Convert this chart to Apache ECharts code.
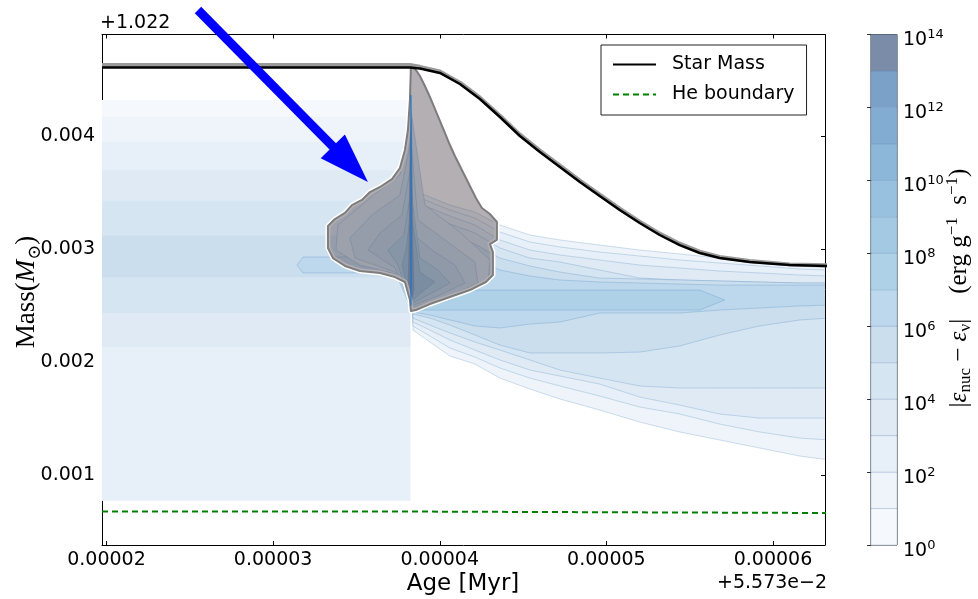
<!DOCTYPE html>
<html>
<head>
<meta charset="utf-8">
<script src="https://cdn.jsdelivr.net/npm/echarts@6.0.0/dist/echarts.min.js"></script>
<style>
html,body{margin:0;padding:0;background:#ffffff;}
#chart{width:978px;height:599px;}
</style>
</head>
<body>
<div id="chart"></div>
<script>
// ================= DATA =================
// axis ranges (offsets: age +5.573e-2 Myr, mass +1.022 Msun)
const ageRange = [1.973e-5, 6.312e-5];
const massRange = [0.381e-3, 4.898e-3];
const cbRange = [0, 14];               // log10 |eps_nuc - eps_nu|
const cbLevels = [0,1,2,3,4,5,6,7,8,9,10,11,12,13];

// Star mass curve
const starAge  = [1.973e-5, 3.821e-5, 3.881e-5, 4.001e-5, 4.121e-5, 4.241e-5, 4.361e-5, 4.481e-5, 4.601e-5, 4.721e-5, 4.841e-5, 4.960e-5, 5.080e-5, 5.200e-5, 5.320e-5, 5.440e-5, 5.560e-5, 5.680e-5, 5.860e-5, 6.100e-5, 6.340e-5];
const starMass = [4.606e-3, 4.606e-3, 4.597e-3, 4.558e-3, 4.460e-3, 4.327e-3, 4.168e-3, 4.000e-3, 3.858e-3, 3.726e-3, 3.593e-3, 3.469e-3, 3.345e-3, 3.230e-3, 3.124e-3, 3.035e-3, 2.965e-3, 2.920e-3, 2.885e-3, 2.858e-3, 2.850e-3];
// grey surface convective zone trace
const surfAge  = [1.973e-5, 3.821e-5, 3.881e-5, 4.001e-5, 4.121e-5, 4.241e-5, 4.361e-5, 4.481e-5, 4.601e-5, 4.721e-5, 4.841e-5, 4.960e-5, 5.080e-5, 5.200e-5, 5.320e-5, 5.440e-5, 5.560e-5, 5.680e-5, 5.860e-5, 6.100e-5, 6.340e-5];
const surfMass = [4.628e-3, 4.628e-3, 4.612e-3, 4.570e-3, 4.472e-3, 4.339e-3, 4.180e-3, 4.012e-3, 3.870e-3, 3.738e-3, 3.605e-3, 3.481e-3, 3.357e-3, 3.242e-3, 3.136e-3, 3.047e-3, 2.977e-3, 2.930e-3, 2.893e-3, 2.864e-3, 2.855e-3];

// He boundary
const heAge  = [1.973e-5, 3.825e-5, 3.825e-5, 6.340e-5];
const heMass = [0.677e-3, 0.677e-3, 0.664e-3, 0.664e-3];

// burning contours, left part (before the flash): rectangles
const leftAgeStart = 1.95e-5;
const leftAgeEnd   = 3.823e-5;
const leftLevels   = [0, 1, 2, 3, 4, 5];
const leftLowMass  = [0.774e-3, 0.774e-3, 0.774e-3, 2.133e-3, 2.434e-3, 2.749e-3];
const leftHighMass = [4.319e-3, 4.170e-3, 3.950e-3, 3.696e-3, 3.427e-3, 3.119e-3];
const leftCoreLevel = 6;
const leftCore = [[3.143e-5,2.858e-3],[3.179e-5,2.929e-3],[3.823e-5,2.929e-3],[3.823e-5,2.788e-3],[3.179e-5,2.788e-3]];

// burning contours, right part (after the flash)
const rightAges = [3.839e-5, 3.941e-5, 4.061e-5, 4.211e-5, 4.361e-5, 4.541e-5, 4.721e-5, 4.960e-5, 5.200e-5, 5.440e-5, 5.680e-5, 5.920e-5, 6.160e-5, 6.340e-5];
const rightLevels = [1, 2, 3, 4, 5, 6];
const rightLow = [
  [2.283e-3,2.177e-3,2.053e-3,1.982e-3,1.858e-3,1.761e-3,1.673e-3,1.575e-3,1.469e-3,1.381e-3,1.310e-3,1.239e-3,1.168e-3,1.133e-3],
  [2.319e-3,2.230e-3,2.124e-3,2.044e-3,1.947e-3,1.858e-3,1.788e-3,1.699e-3,1.602e-3,1.540e-3,1.451e-3,1.381e-3,1.327e-3,1.310e-3],
  [2.354e-3,2.283e-3,2.195e-3,2.106e-3,2.018e-3,1.929e-3,1.876e-3,1.805e-3,1.690e-3,1.619e-3,1.540e-3,1.504e-3,1.504e-3,1.504e-3],
  [2.389e-3,2.327e-3,2.257e-3,2.177e-3,2.106e-3,2.018e-3,1.929e-3,1.858e-3,1.788e-3,1.770e-3,1.770e-3,1.770e-3,1.770e-3,1.770e-3],
  [2.425e-3,2.389e-3,2.327e-3,2.239e-3,2.150e-3,2.080e-3,2.080e-3,2.080e-3,2.088e-3,2.142e-3,2.239e-3,2.319e-3,2.372e-3,2.389e-3],
  [2.442e-3,2.416e-3,2.372e-3,2.319e-3,2.301e-3,2.336e-3,2.354e-3,2.434e-3,2.434e-3,2.434e-3,2.460e-3,2.478e-3,2.496e-3,2.504e-3]
];
const rightHigh = [
  [3.522e-3,3.460e-3,3.389e-3,3.327e-3,3.212e-3,3.124e-3,3.080e-3,3.035e-3,2.991e-3,2.956e-3,2.920e-3,2.885e-3,2.850e-3,2.832e-3],
  [3.478e-3,3.416e-3,3.345e-3,3.274e-3,3.150e-3,3.062e-3,3.018e-3,2.973e-3,2.938e-3,2.903e-3,2.876e-3,2.850e-3,2.823e-3,2.814e-3],
  [3.434e-3,3.363e-3,3.292e-3,3.212e-3,3.080e-3,2.991e-3,2.947e-3,2.903e-3,2.858e-3,2.832e-3,2.805e-3,2.788e-3,2.770e-3,2.761e-3],
  [3.381e-3,3.301e-3,3.221e-3,3.142e-3,3.009e-3,2.920e-3,2.885e-3,2.814e-3,2.743e-3,2.726e-3,2.717e-3,2.708e-3,2.699e-3,2.699e-3],
  [3.310e-3,3.221e-3,3.133e-3,3.044e-3,2.920e-3,2.850e-3,2.796e-3,2.743e-3,2.735e-3,2.726e-3,2.717e-3,2.708e-3,2.699e-3,2.699e-3],
  [3.212e-3,3.115e-3,3.009e-3,2.920e-3,2.814e-3,2.761e-3,2.726e-3,2.708e-3,2.699e-3,2.690e-3,2.681e-3,2.681e-3,2.681e-3,2.681e-3]
];
const rightCoreLevel = 7;
const rightCore = [[3.839e-5,2.637e-3],[5.560e-5,2.637e-3],[5.710e-5,2.549e-3],[5.560e-5,2.460e-3],[3.839e-5,2.460e-3]];

// flash region contours
const flashLevels = [4, 5, 6, 7, 9, 12, 13];
const flashPolys = [
  [[3.827e-5,4.230e-3],[3.761e-5,3.655e-3],[3.581e-5,3.451e-3],[3.389e-5,3.212e-3],[3.377e-5,2.991e-3],[3.521e-5,2.858e-3],[3.761e-5,2.770e-3],[3.827e-5,2.460e-3],[4.061e-5,2.549e-3],[4.289e-5,2.699e-3],[4.301e-5,2.903e-3],[4.121e-5,3.150e-3],[3.911e-5,3.389e-3]],
  [[3.827e-5,3.965e-3],[3.761e-5,3.478e-3],[3.593e-5,3.301e-3],[3.461e-5,3.097e-3],[3.491e-5,2.920e-3],[3.731e-5,2.796e-3],[3.827e-5,2.478e-3],[4.031e-5,2.566e-3],[4.229e-5,2.699e-3],[4.211e-5,2.885e-3],[4.031e-5,3.080e-3],[3.869e-5,3.257e-3]],
  [[3.827e-5,3.743e-3],[3.773e-5,3.301e-3],[3.641e-5,3.142e-3],[3.569e-5,2.991e-3],[3.731e-5,2.832e-3],[3.827e-5,2.496e-3],[3.989e-5,2.584e-3],[4.151e-5,2.699e-3],[4.091e-5,2.858e-3],[3.953e-5,2.991e-3],[3.845e-5,3.124e-3]],
  [[3.827e-5,3.522e-3],[3.785e-5,3.124e-3],[3.689e-5,2.991e-3],[3.749e-5,2.858e-3],[3.827e-5,2.513e-3],[3.941e-5,2.602e-3],[4.061e-5,2.699e-3],[3.989e-5,2.814e-3],[3.881e-5,2.920e-3]],
  [[3.827e-5,3.345e-3],[3.797e-5,2.991e-3],[3.773e-5,2.858e-3],[3.827e-5,2.531e-3],[3.893e-5,2.619e-3],[3.971e-5,2.708e-3],[3.881e-5,2.796e-3]],
  [[3.824e-5,4.363e-3],[3.815e-5,2.991e-3],[3.809e-5,2.637e-3],[3.827e-5,2.496e-3],[3.845e-5,2.637e-3],[3.839e-5,2.991e-3],[3.830e-5,4.363e-3]],
  [[3.826e-5,4.142e-3],[3.823e-5,2.726e-3],[3.827e-5,2.522e-3],[3.831e-5,2.726e-3],[3.829e-5,4.142e-3]]
];

// convective (grey) region
const convZone = [[3.827e-5,4.619e-3],[3.857e-5,4.584e-3],[3.881e-5,4.531e-3],[3.911e-5,4.442e-3],[3.941e-5,4.345e-3],[3.971e-5,4.239e-3],[4.001e-5,4.133e-3],[4.031e-5,4.027e-3],[4.061e-5,3.920e-3],[4.091e-5,3.823e-3],[4.121e-5,3.735e-3],[4.151e-5,3.646e-3],[4.181e-5,3.558e-3],[4.217e-5,3.451e-3],[4.253e-5,3.363e-3],[4.301e-5,3.310e-3],[4.343e-5,3.239e-3],[4.343e-5,3.080e-3],[4.301e-5,3.044e-3],[4.319e-5,2.973e-3],[4.319e-5,2.770e-3],[4.277e-5,2.708e-3],[4.181e-5,2.637e-3],[4.061e-5,2.575e-3],[3.941e-5,2.513e-3],[3.857e-5,2.460e-3],[3.827e-5,2.451e-3],[3.821e-5,2.549e-3],[3.791e-5,2.708e-3],[3.731e-5,2.752e-3],[3.641e-5,2.788e-3],[3.521e-5,2.805e-3],[3.431e-5,2.850e-3],[3.359e-5,2.920e-3],[3.329e-5,3.009e-3],[3.329e-5,3.204e-3],[3.371e-5,3.265e-3],[3.431e-5,3.319e-3],[3.473e-5,3.389e-3],[3.533e-5,3.434e-3],[3.581e-5,3.504e-3],[3.641e-5,3.549e-3],[3.713e-5,3.619e-3],[3.761e-5,3.717e-3],[3.791e-5,3.876e-3],[3.809e-5,4.053e-3],[3.821e-5,4.319e-3]];

// flash spike
const spikeAge  = [3.827e-5, 3.827e-5];
const spikeMass = [4.363e-3, 2.500e-3];

// annotation arrow (start, tip)
const arrowStart = [2.549e-5, 5.115e-3];
const arrowTip   = [3.569e-5, 3.593e-3];

// ================= STYLE =================
const levelColors = ['#f5f8fc','#eef4fa','#e7f0f8','#dfeaf5','#d6e5f2','#cadeee','#bdd8ec','#afd1e8','#a3c9e3','#98c1df','#8db7d9','#83acd2','#7ba1c9','#7a8ca8'];
const FONT = 'DejaVu Sans';

const polys = [], polyLevels = [], polyStroke = [];
leftLevels.forEach((lv, i) => {
  polys.push([[leftAgeStart, leftLowMass[i]], [leftAgeEnd, leftLowMass[i]], [leftAgeEnd, leftHighMass[i]], [leftAgeStart, leftHighMass[i]]]);
  polyLevels.push(lv); polyStroke.push(false);
});
polys.push(leftCore); polyLevels.push(leftCoreLevel); polyStroke.push(true);
rightLevels.forEach((lv, k) => {
  const pts = [];
  rightAges.forEach((a, j) => pts.push([a, rightHigh[k][j]]));
  for (let j = rightAges.length - 1; j >= 0; j--) pts.push([rightAges[j], rightLow[k][j]]);
  polys.push(pts); polyLevels.push(lv); polyStroke.push(true);
});
polys.push(rightCore); polyLevels.push(rightCoreLevel); polyStroke.push(true);
flashPolys.forEach((p, i) => { polys.push(p); polyLevels.push(flashLevels[i]); polyStroke.push(true); });

const zip = (a, b) => a.map((v, i) => [v, b[i]]);

const chart = echarts.init(document.getElementById('chart'), null, {renderer: 'canvas'});

const mainX = (pos, showLabel) => ({
  type: 'value', gridIndex: 0, position: pos, min: ageRange[0], max: ageRange[1],
  minInterval: 1e-5, maxInterval: 1e-5,
  axisLine: {show: true, onZero: false, lineStyle: {color: '#000', width: 1}},
  axisTick: {show: true, inside: true, length: 4, lineStyle: {color: '#000'}},
  splitLine: {show: false},
  axisLabel: {show: showLabel, showMinLabel: false, showMaxLabel: false, margin: 6,
    color: '#000', fontSize: 19, fontFamily: FONT, formatter: v => v.toFixed(5)}
});
const mainY = (pos, showLabel) => ({
  type: 'value', gridIndex: 0, position: pos, min: massRange[0], max: massRange[1],
  minInterval: 1e-3, maxInterval: 1e-3,
  axisLine: {show: true, onZero: false, lineStyle: {color: '#000', width: 1}},
  axisTick: {show: true, inside: true, length: 4, lineStyle: {color: '#000'}},
  splitLine: {show: false},
  axisLabel: {show: showLabel, showMinLabel: false, showMaxLabel: false, margin: 7,
    color: '#000', fontSize: 19, fontFamily: FONT, formatter: v => v.toFixed(3)}
});

const option = {
  animation: false,
  backgroundColor: '#ffffff',
  grid: [
    {left: 102, right: 153, top: 34.5, bottom: 54, containLabel: false},
    {left: 871, width: 26, top: 34.5, bottom: 54, show: true, borderColor: '#333', borderWidth: 1, backgroundColor: 'transparent'}
  ],
  xAxis: [mainX('bottom', true), mainX('top', false),
    {type: 'value', gridIndex: 1, min: 0, max: 1, show: false}],
  yAxis: [mainY('left', true), mainY('right', false),
    {type: 'value', gridIndex: 1, position: 'right', min: cbRange[0], max: cbRange[1], interval: 2,
     axisLine: {show: false}, splitLine: {show: false},
     axisTick: {show: true, inside: true, length: 4, lineStyle: {color: '#333'}},
     axisLabel: {show: true, margin: 6, color: '#000', fontFamily: FONT,
       formatter: v => '{b|10}{s|' + v + '}',
       rich: {b: {fontSize: 19, fontFamily: FONT, color: '#000', lineHeight: 20, padding: [12, 0, 0, 0]},
              s: {fontSize: 13, fontFamily: FONT, color: '#000', lineHeight: 14, verticalAlign: 'top', padding: [4, 0, 0, 0]}}}}],
  legend: {
    data: ['Star Mass', 'He boundary'],
    orient: 'vertical', left: 601, top: 45,
    padding: [10, 12, 11, 11], itemGap: 11, itemWidth: 43, itemHeight: 20,
    backgroundColor: '#fff', borderColor: '#222', borderWidth: 1, borderRadius: 0,
    itemStyle: {opacity: 0, borderWidth: 0},
    textStyle: {fontSize: 19, fontFamily: FONT, color: '#000', padding: [0, 0, 0, 11]},
    selectedMode: false
  },
  series: [
    {
      type: 'custom', name: 'contours', xAxisIndex: 0, yAxisIndex: 0, clip: true, silent: true, z: 1,
      data: polys.map((p, i) => [p[0][0], p[0][1], i]),
      encode: {x: 0, y: 1},
      renderItem: (params, api) => {
        const i = api.value(2);
        const pts = polys[i].map(pt => api.coord(pt));
        return {type: 'polygon', shape: {points: pts},
          style: {fill: levelColors[polyLevels[i]], stroke: polyStroke[i] ? 'rgba(60,120,180,0.3)' : null, lineWidth: 0.8}};
      }
    },
    {
      type: 'custom', name: 'convective', xAxisIndex: 0, yAxisIndex: 0, clip: true, silent: true, z: 3,
      data: [[convZone[0][0], convZone[0][1]]], encode: {x: 0, y: 1},
      renderItem: (params, api) => {
        const pts = convZone.map(pt => api.coord(pt));
        return {type: 'group', children: [
          {type: 'polygon', shape: {points: pts}, style: {fill: null, stroke: '#ffffff', lineWidth: 5, lineJoin: 'round'}},
          {type: 'polygon', shape: {points: pts}, style: {fill: 'rgba(86,77,86,0.45)', stroke: '#7d7d7d', lineWidth: 2, lineJoin: 'round'}}
        ]};
      }
    },
    {
      type: 'line', name: 'spike', xAxisIndex: 0, yAxisIndex: 0, z: 4, silent: true,
      data: zip(spikeAge, spikeMass), symbol: 'none', lineStyle: {color: 'rgba(40,118,200,0.85)', width: 1.5}
    },
    {
      type: 'line', name: 'surface', xAxisIndex: 0, yAxisIndex: 0, z: 4, silent: true,
      data: zip(surfAge, surfMass), symbol: 'none', lineStyle: {color: '#9a9a9a', width: 4}
    },
    {
      type: 'line', name: 'Star Mass', xAxisIndex: 0, yAxisIndex: 0, z: 5,
      data: zip(starAge, starMass), symbol: 'none', smooth: false,
      lineStyle: {color: '#000', width: 2.5}, itemStyle: {color: '#000'}
    },
    {
      type: 'line', name: 'He boundary', xAxisIndex: 0, yAxisIndex: 0, z: 5,
      data: zip(heAge, heMass), symbol: 'none',
      lineStyle: {color: '#008000', width: 2, type: [6, 4]}, itemStyle: {color: '#008000'}
    },
    {
      type: 'custom', name: 'colorbar', xAxisIndex: 2, yAxisIndex: 2, silent: true, z: 1,
      data: cbLevels.map(l => [0, l]), encode: {x: 0, y: 1},
      renderItem: (params, api) => {
        const l = api.value(1);
        const p0 = api.coord([0, l]), p1 = api.coord([1, l + 1]);
        return {type: 'rect', shape: {x: p0[0], y: p1[1], width: p1[0] - p0[0], height: p0[1] - p1[1]},
          style: {fill: levelColors[l], stroke: 'rgba(90,130,175,0.35)', lineWidth: 0.7}};
      }
    },
    {
      type: 'custom', name: 'arrow', xAxisIndex: 0, yAxisIndex: 0, clip: false, silent: true, z: 20,
      data: [[arrowStart[0], arrowStart[1], arrowTip[0], arrowTip[1]]], encode: {x: [0, 2], y: [1, 3]},
      renderItem: (params, api) => {
        const p0 = api.coord([api.value(0), api.value(1)]);
        const p1 = api.coord([api.value(2), api.value(3)]);
        const dx = p1[0] - p0[0], dy = p1[1] - p0[1];
        const len = Math.sqrt(dx * dx + dy * dy);
        const ux = dx / len, uy = dy / len, nx = -uy, ny = ux;
        const headLen = 50, headHalf = 17;
        const bx = p1[0] - ux * headLen, by = p1[1] - uy * headLen;
        return {type: 'group', children: [
          {type: 'line', shape: {x1: p0[0], y1: p0[1], x2: bx + ux * 2, y2: by + uy * 2}, style: {stroke: '#0000ff', lineWidth: 9, lineCap: 'butt'}},
          {type: 'polygon', shape: {points: [[p1[0], p1[1]], [bx + nx * headHalf, by + ny * headHalf], [bx - nx * headHalf, by - ny * headHalf]]}, style: {fill: '#0000ff'}}
        ]};
      }
    }
  ],
  graphic: [
    {type: 'text', x: 100, y: 23, style: {text: '+1.022', fontSize: 19, fontFamily: FONT, fill: '#000', align: 'left', verticalAlign: 'middle'}},
    {type: 'text', x: 827, y: 583, style: {text: '+5.573e\u22122', fontSize: 19, fontFamily: FONT, fill: '#000', align: 'right', verticalAlign: 'middle'}},
    {type: 'text', x: 463, y: 584, style: {text: 'Age [Myr]', fontSize: 23, fontFamily: FONT, fill: '#000', align: 'center', verticalAlign: 'middle'}},
    {type: 'text', x: 27, y: 292, rotation: Math.PI / 2,
      style: {text: '{n|Mass(}{i|M}{s|\u2299}{n|)}', align: 'center', verticalAlign: 'middle',
        rich: {n: {fontSize: 27, fontFamily: 'Liberation Serif', fill: '#000', lineHeight: 34},
               i: {fontSize: 27, fontFamily: 'Liberation Serif', fontStyle: 'italic', fill: '#000', lineHeight: 34},
               s: {fontSize: 18, fontFamily: 'DejaVu Serif', fill: '#000', lineHeight: 16, verticalAlign: 'bottom'}}}},
    {type: 'text', x: 959, y: 288, rotation: Math.PI / 2,
      style: {text: '{n||}{e|\u03b5}{s|nuc}{n| \u2212 }{e|\u03b5}{s|\u03bd}{n||}{n|    (erg g}{p|\u22121}{n|  s}{p|\u22121}{n|)}', align: 'center', verticalAlign: 'middle',
        rich: {n: {fontSize: 25, fontFamily: 'Liberation Serif', fill: '#000', lineHeight: 30},
               e: {fontSize: 25, fontFamily: 'Liberation Serif', fontStyle: 'italic', fill: '#000', lineHeight: 30},
               s: {fontSize: 17, fontFamily: 'Liberation Serif', fill: '#000', lineHeight: 14, verticalAlign: 'bottom'},
               p: {fontSize: 17, fontFamily: 'Liberation Serif', fill: '#000', lineHeight: 14, verticalAlign: 'top'}}}}
  ]
};
chart.setOption(option);
</script>
</body>
</html>
